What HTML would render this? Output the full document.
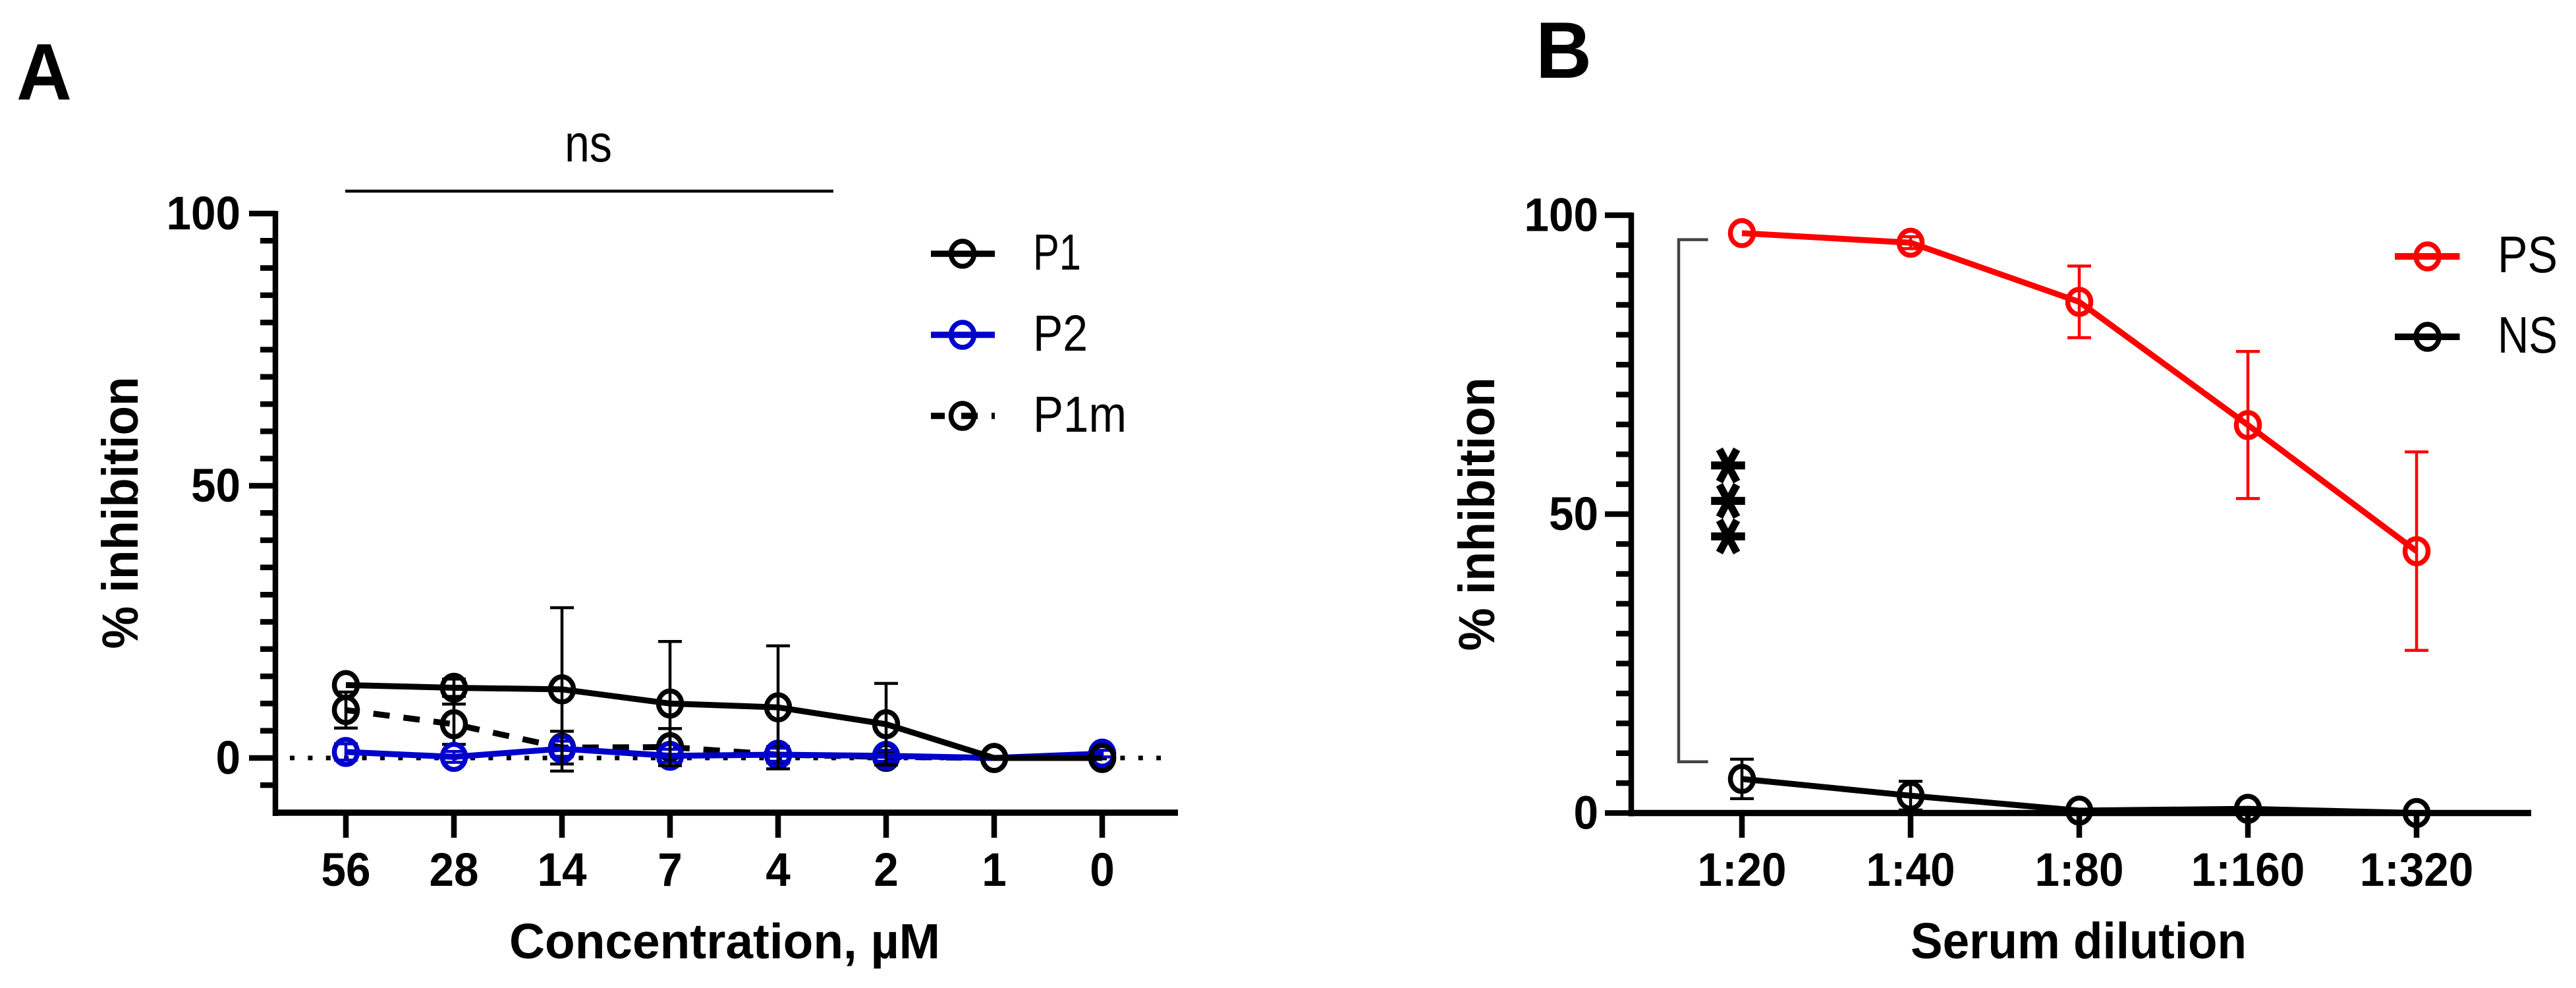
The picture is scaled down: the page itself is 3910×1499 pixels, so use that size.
<!DOCTYPE html>
<html lang="en">
<head>
<meta charset="utf-8">
<title>Inhibition charts</title>
<style>
  html, body { margin: 0; padding: 0; background: #fff; }
  svg { display: block; }
  text { font-family: "Liberation Sans", Arial, sans-serif; fill: #000; }
  .b { font-weight: 700; }
</style>
</head>
<body>
<svg id="chart" xmlns="http://www.w3.org/2000/svg" width="3910" height="1499" viewBox="0 0 3910 1499">
  <rect width="3910" height="1499" fill="#fff"/>

  <g id="panelA">
    <text class="b" x="25" y="151" font-size="122" textLength="84" lengthAdjust="spacingAndGlyphs">A</text>
    <text x="893" y="245" font-size="80" text-anchor="middle" textLength="72" lengthAdjust="spacingAndGlyphs">ns</text>
    <line x1="524" x2="1265" y1="290" y2="290" stroke="#000" stroke-width="4.5"/>
    <text class="b" transform="translate(209 778) rotate(-90)" font-size="77" text-anchor="middle" textLength="413" lengthAdjust="spacingAndGlyphs">% inhibition</text>
    <text class="b" x="1100" y="1454" font-size="75" text-anchor="middle" textLength="654" lengthAdjust="spacingAndGlyphs">Concentration, µM</text>

    <g>
      <line x1="1413" x2="1510" y1="385" y2="385" stroke="#000" stroke-width="9.5"/>
      <ellipse cx="1461" cy="385" rx="17.5" ry="19" fill="none" stroke="#000" stroke-width="7.5"/>
      <text x="1568" y="409" font-size="77" textLength="73" lengthAdjust="spacingAndGlyphs">P1</text>
    </g>
    <g>
      <line x1="1413" x2="1510" y1="508" y2="508" stroke="#0000cc" stroke-width="9.5"/>
      <ellipse cx="1461" cy="508" rx="17.5" ry="19" fill="none" stroke="#0000cc" stroke-width="7.5"/>
      <text x="1568" y="532" font-size="77" textLength="83" lengthAdjust="spacingAndGlyphs">P2</text>
    </g>
    <g>
      <line x1="1413" x2="1510" y1="631" y2="631" stroke="#000" stroke-width="9.5" stroke-dasharray="21 25 25 21 8 100"/>
      <ellipse cx="1461" cy="631" rx="17.5" ry="19" fill="none" stroke="#000" stroke-width="7.5"/>
      <text x="1568" y="655" font-size="77" textLength="142" lengthAdjust="spacingAndGlyphs">P1m</text>
    </g>
  </g>

  <g id="panelB">
    <text class="b" x="2331" y="118" font-size="122" textLength="85" lengthAdjust="spacingAndGlyphs">B</text>
    <text class="b" transform="translate(2268 780) rotate(-90)" font-size="77" text-anchor="middle" textLength="415" lengthAdjust="spacingAndGlyphs">% inhibition</text>
    <text class="b" x="3155" y="1454" font-size="77" text-anchor="middle" textLength="510" lengthAdjust="spacingAndGlyphs">Serum dilution</text>
    <path d="M2592.6 363.6H2548V1155.7H2592.6" fill="none" stroke="#444" stroke-width="4.5"/>
    <text class="b" transform="translate(2676 760) rotate(-90)" font-size="103" text-anchor="middle" stroke="#000" stroke-width="3.5" style="font-family:'DejaVu Sans',sans-serif">***</text>

    <g>
      <line x1="3635" x2="3733.5" y1="389" y2="389" stroke="#ff0000" stroke-width="10"/>
      <ellipse cx="3684.6" cy="389" rx="17.5" ry="19" fill="none" stroke="#ff0000" stroke-width="7.5"/>
      <text x="3791" y="413" font-size="78" textLength="91" lengthAdjust="spacingAndGlyphs">PS</text>
    </g>
    <g>
      <line x1="3635" x2="3733.5" y1="511" y2="511" stroke="#000" stroke-width="10"/>
      <ellipse cx="3684.6" cy="511" rx="17.5" ry="19" fill="none" stroke="#000" stroke-width="7.5"/>
      <text x="3791" y="535" font-size="78" textLength="91" lengthAdjust="spacingAndGlyphs">NS</text>
    </g>
  </g>
</svg>

<script>
// ---- Panel A data ----
const concentrationLabels = ['56', '28', '14', '7', '4', '2', '1', '0'];
const p1Values  = [13.4, 12.9, 12.6, 10.0, 9.3, 6.2, 0.0, 0.0];
const p1Errors  = [0.0, 1.6, 15.0, 11.4, 11.3, 7.5, 0.0, 0.0];
const p2Values  = [1.1, 0.2, 1.7, 0.4, 0.6, 0.4, 0.0, 0.8];
const p2Errors  = [1.5, 1.0, 1.4, 1.2, 1.2, 1.0, 0.0, 0.6];
const p1mValues = [8.8, 6.2, 1.9, 2.0, 0.6, 0.2, 0.0, 0.0];
const p1mErrors = [3.3, 3.7, 3.0, 3.4, 1.5, 1.0, 0.0, 0.0];
const yTicksA = [-5, 0, 5, 10, 15, 20, 25, 30, 35, 40, 45, 50, 55, 60, 65, 70, 75, 80, 85, 90, 95, 100];
const yTickLabelsA = ['0', '50', '100'];

// ---- Panel B data ----
const dilutionLabels = ['1:20', '1:40', '1:80', '1:160', '1:320'];
const psValues = [97.0, 95.4, 85.5, 64.9, 43.8];
const psErrors = [0.0, 1.0, 6.0, 12.3, 16.6];
const nsValues = [5.7, 2.9, 0.4, 0.7, 0.0];
const nsErrors = [3.3, 2.4, 0.0, 0.0, 0.0];
const yTicksB = [0, 5, 10, 15, 20, 25, 30, 35, 40, 45, 50, 55, 60, 65, 70, 75, 80, 85, 90, 95, 100];
const yTickLabelsB = ['0', '50', '100'];

const SVG_NS = 'http://www.w3.org/2000/svg';
const BLUE = '#0000cc';
const RED = '#ff0000';
const BLACK = '#000000';

// Axis functions
function xA(i) { return 525 + 164 * i; }
function yA(v) { return 1150 - 8.26 * v; }
function xB(i) { return 2644 + 256 * i; }
function yB(v) { return 1233.5 - 9.07 * v; }

function make(tag, attrs, parent, content) {
  const el = document.createElementNS(SVG_NS, tag);
  for (const k in attrs) el.setAttribute(k, attrs[k]);
  if (content !== undefined) el.textContent = content;
  parent.appendChild(el);
  return el;
}

function drawAxes(parent, cfg) {
  const group = make('g', {}, parent);
  
  

  const yLine = make('line', { x1: cfg.axisX, x2: cfg.axisX, y1: cfg.y(100) - 4, y2: cfg.baseY + 5, stroke: BLACK, 'stroke-width': 8.5 }, group);
  
  

  const xLine = make('line', { x1: cfg.axisX - 4, x2: cfg.xEnd, y1: cfg.baseY, y2: cfg.baseY, stroke: BLACK, 'stroke-width': 9.5 }, group);
  
  

  cfg.yTicks.forEach(function (v) {
    const major = cfg.yLabels.indexOf(String(v)) >= 0;
    const t = make('line', { x1: cfg.axisX - (major ? 40 : 23), x2: cfg.axisX, y1: cfg.y(v), y2: cfg.y(v), stroke: BLACK, 'stroke-width': 8.5 }, group);
    
    
    if (major) {
      const lab = make('text', { transform: 'translate(' + cfg.yLabelX + ' ' + (cfg.y(v) + 24) + ') scale(0.95 1)', 'font-size': 71, 'font-weight': 700, 'text-anchor': 'end' }, group, String(v));
      
      
    }
  });

  cfg.categories.forEach(function (c, i) {
    const t = make('line', { x1: cfg.x(i), x2: cfg.x(i), y1: cfg.baseY, y2: 1271, stroke: BLACK, 'stroke-width': 8.5 }, group);
    
    
    const lab = make('text', { transform: 'translate(' + cfg.x(i) + ' 1344) scale(0.95 1)', 'font-size': 71, 'font-weight': 700, 'text-anchor': 'middle' }, group, c);
    
    
  });
}

function drawSeries(parent, name, values, errors, x, y, color, dash) {
  const group = make('g', {}, parent);
  
  

  values.forEach(function (v, i) {
    const e = errors[i];
    if (e <= 0) return;
    const px = x(i);
    const d = 'M' + px + ' ' + y(v + e) + 'V' + y(v - e) + 'M' + (px - 18) + ' ' + y(v + e) + 'H' + (px + 18) + 'M' + (px - 18) + ' ' + y(v - e) + 'H' + (px + 18);
    const bar = make('path', { d: d, fill: 'none', stroke: color, 'stroke-width': 4.5 }, group);
    
    
  });

  const pts = values.map(function (v, i) { return x(i) + ',' + y(v); }).join(' ');
  const attrs = { points: pts, fill: 'none', stroke: color, 'stroke-width': 9 };
  if (dash) { attrs['stroke-dasharray'] = dash; attrs['stroke-dashoffset'] = 4; }
  const line = make('polyline', attrs, group);
  
  

  values.forEach(function (v, i) {
    const m = make('ellipse', { cx: x(i), cy: y(v), rx: 17.5, ry: 19, fill: 'none', stroke: color, 'stroke-width': 7.5 }, group);
    
    
  });
}

const panelA = document.getElementById('panelA');
const panelB = document.getElementById('panelB');

drawAxes(panelA, { name: 'panel-a', axisX: 418, baseY: 1233, xEnd: 1788, y: yA, x: xA, yTicks: yTicksA, yLabels: yTickLabelsA, yLabelX: 365, categories: concentrationLabels });
drawAxes(panelB, { name: 'panel-b', axisX: 2476, baseY: 1233.5, xEnd: 3842, y: yB, x: xB, yTicks: yTicksB, yLabels: yTickLabelsB, yLabelX: 2426, categories: dilutionLabels });

const zeroLine = make('line', { x1: 440, x2: 1762, y1: yA(0), y2: yA(0), stroke: BLACK, 'stroke-width': 7, 'stroke-dasharray': '7 20.4' }, panelA);



drawSeries(panelA, 'p1m', p1mValues, p1mErrors, xA, yA, BLACK, '25 21');
drawSeries(panelA, 'p2', p2Values, p2Errors, xA, yA, BLUE);
drawSeries(panelA, 'p1', p1Values, p1Errors, xA, yA, BLACK);

drawSeries(panelB, 'ns', nsValues, nsErrors, xB, yB, BLACK);
drawSeries(panelB, 'ps', psValues, psErrors, xB, yB, RED);
</script>
</body>
</html>
